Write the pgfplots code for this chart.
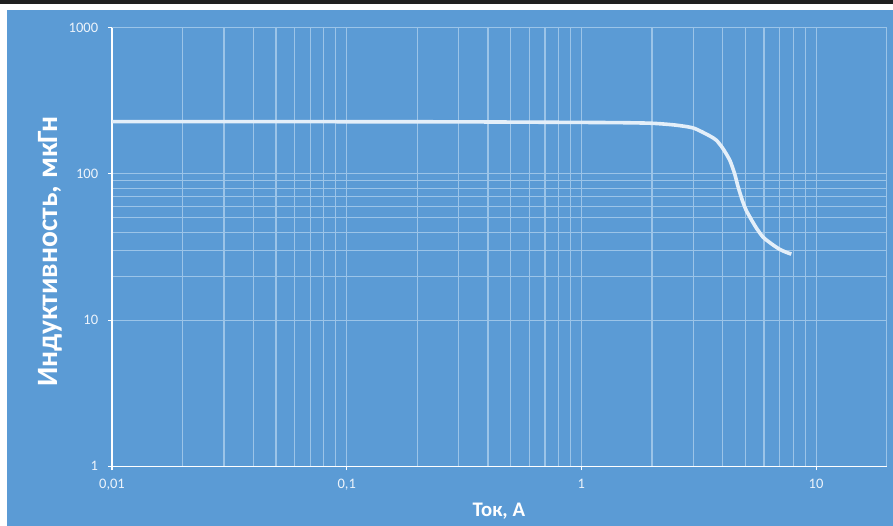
\documentclass[border=0pt]{standalone}
\usepackage{pgfplots}
\pgfplotsset{compat=1.18}
\usepackage{fontspec}
\setmainfont{Carlito}
\definecolor{bgblue}{RGB}{91,155,213}
\definecolor{gridc}{RGB}{155,196,232}
\definecolor{curvec}{RGB}{228,239,249}
\definecolor{tickc}{RGB}{238,244,251}
\begin{document}
\begin{tikzpicture}
% page background
\fill[white] (-112bp,-59.7bp) rectangle (781bp,466.3bp);
\fill[bgblue] (-104.7bp,-59.7bp) rectangle (781bp,455.8bp);
\fill[black!88] (-112bp,462.6bp) rectangle (781bp,466.3bp);
\begin{axis}[
  at={(0,0)}, anchor=south west,
  scale only axis,
  width=774.7bp, height=438.6bp,
  xmode=log, ymode=log,
  xmin=0.01, xmax=20, ymin=1, ymax=1000,
  axis x line*=bottom, axis y line*=left,
  axis line style={white, line width=1.2bp, -},
  xtick={0.01,0.1,1,10},
  xticklabels={{0,01},{0,1},1,10},
  ytick={1,10,100,1000},
  yticklabels={1,10,100,1000},
  minor xtick={0.02,0.03,0.04,0.05,0.06,0.07,0.08,0.09,0.2,0.3,0.4,0.5,0.6,0.7,0.8,0.9,2,3,4,5,6,7,8,9,20,30,40,50,60,70,80,90,200},
  minor ytick={20,30,40,50,60,70,80,90},
  xmajorgrids, xminorgrids, ymajorgrids, yminorgrids,
  major grid style={gridc, line width=1.1bp},
  minor grid style={gridc, line width=1.1bp},
  tick align=outside,
  major tick length=4bp,
  minor x tick style={draw=none},
  minor y tick style={draw=none},
  tick style={white, line width=1.1bp},
  ticklabel style={font=\fontsize{14.5bp}{15bp}\selectfont, text=tickc},
  /pgf/number format/assume math mode=true,
  yticklabel style={inner sep=0pt, xshift=-9.7bp},
  xticklabel style={inner sep=0pt, yshift=-9bp},
  clip=false,
]
\addplot[curvec, line width=3.6bp, smooth, tension=0.4] coordinates {
(0.01,228) (0.03,228) (0.1,227.5) (0.3,227) (1,225) (1.5,224) (2,222)
(2.5,216) (3.0,206) (3.5,183) (3.76,170) (4.0,150) (4.29,124) (4.5,100)
(4.65,82) (4.85,66) (5.05,56) (5.5,44) (5.94,37) (6.5,33) (7.0,30.5)
(7.5,29) (7.85,28.3)
};
\end{axis}
\node[rotate=90, anchor=base, text=white, font=\fontsize{29.5bp}{30bp}\selectfont\bfseries] at (-54.7bp,214.8bp) {Индуктивность, мкГн};
\node[anchor=base, text=white, font=\fontsize{20.7bp}{21bp}\selectfont\bfseries] at (386.8bp,-50.4bp) {Ток, А};
\end{tikzpicture}
\end{document}
